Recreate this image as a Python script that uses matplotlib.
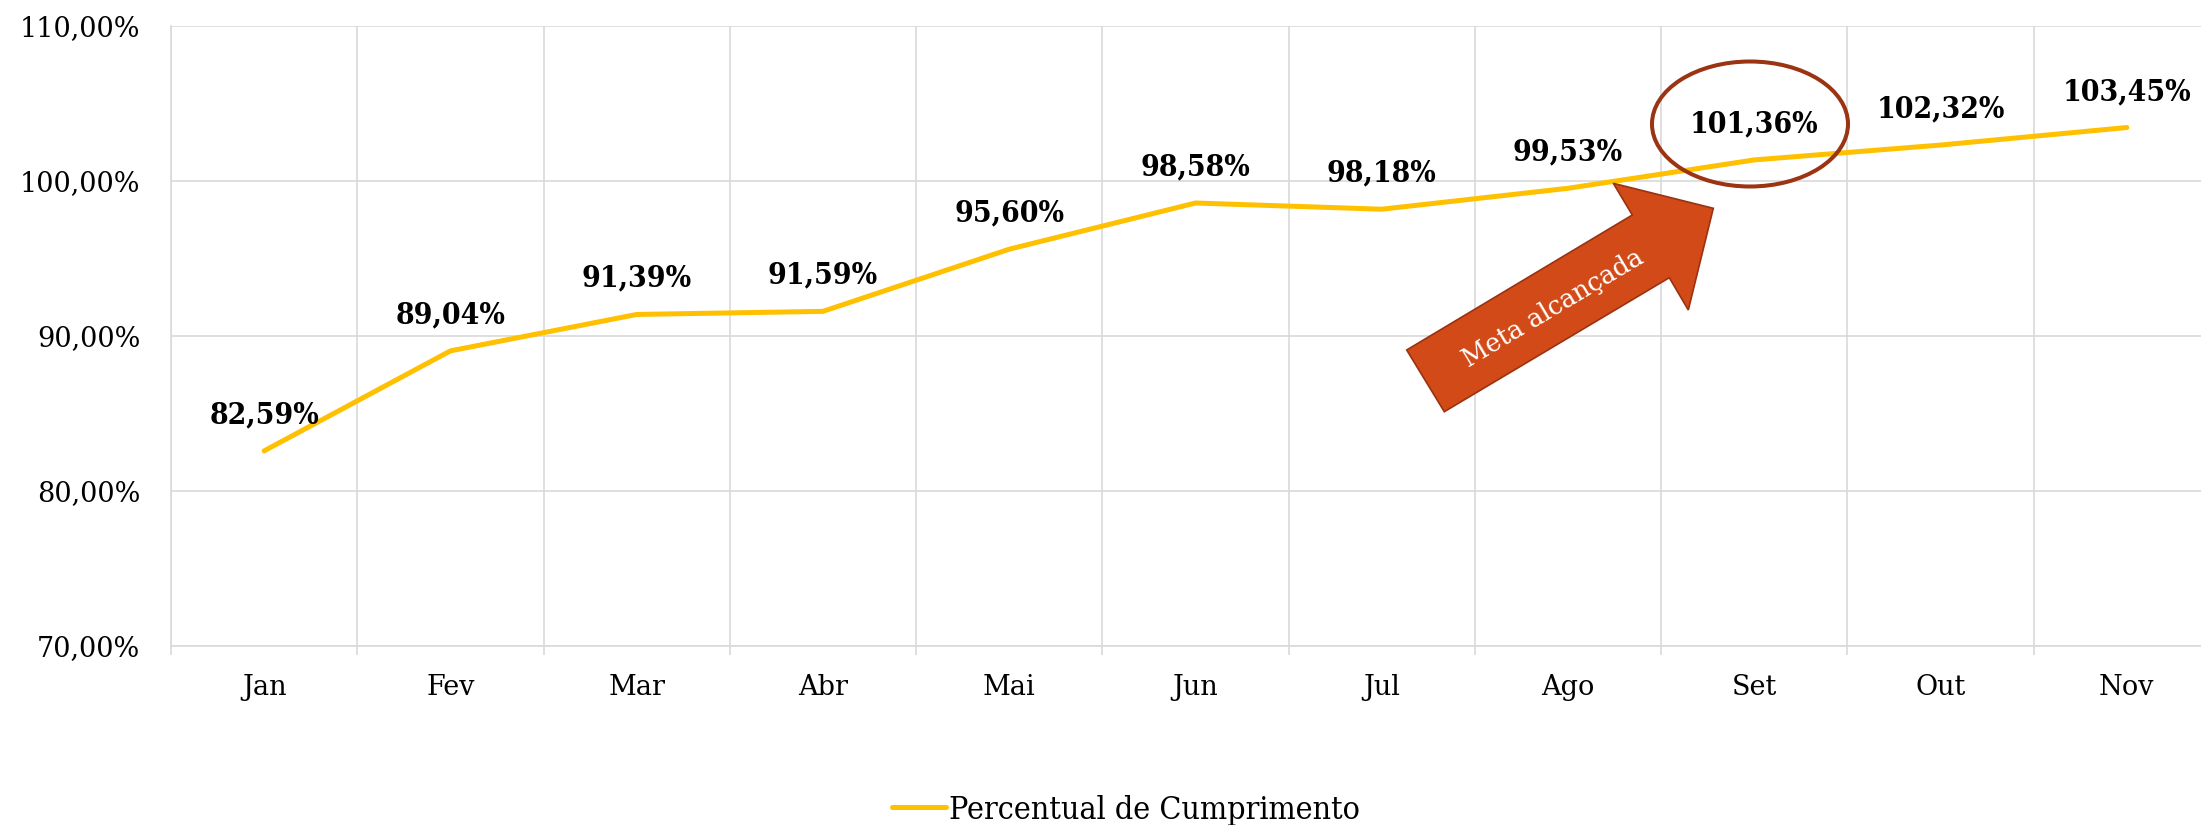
import matplotlib
matplotlib.use("Agg")
import matplotlib.pyplot as plt
from matplotlib.patches import Polygon, Ellipse
from matplotlib.ticker import FixedLocator

months = ["Jan", "Fev", "Mar", "Abr", "Mai", "Jun", "Jul", "Ago", "Set", "Out", "Nov"]
values = [82.59, 89.04, 91.39, 91.59, 95.60, 98.58, 98.18, 99.53, 101.36, 102.32, 103.45]
y_ticks = [70, 80, 90, 100, 110]
series_name = "Percentual de Cumprimento"
note_text = "Meta alcançada"

W, H = 2201, 825
plt.rcParams['font.family'] = ['DejaVu Serif']
fig = plt.figure(figsize=(W / 100, H / 100), dpi=100)

def fx(px):
    return px / W

def fy(py):
    return 1 - py / H

left, right, top, bottom = 171, 2220, 26, 646
ax = fig.add_axes([fx(left), fy(bottom), fx(right - left), (bottom - top) / H])

x = list(range(len(months)))
line, = ax.plot(x, values, color="#FFC000", lw=3.6, solid_capstyle="round",
                solid_joinstyle="round", label=series_name, zorder=3)

for xi, v in zip(x, values):
    ax.annotate(f"{v:.2f}%".replace(".", ","), (xi, v), xytext=(0, 26),
                textcoords="offset points", ha="center", va="center",
                fontsize=21.5, fontweight="bold", fontstretch="condensed",
                color="black", zorder=4)

ax.set_xlim(-0.5, len(months) - 0.5)
ax.set_ylim(70, 110)
ax.set_yticks(y_ticks)
ax.set_yticklabels([f"{t:.2f}%".replace(".", ",") for t in y_ticks])
ax.set_xticks(x)
ax.set_xticklabels(months)
ax.xaxis.set_minor_locator(FixedLocator([i - 0.5 for i in range(len(months) + 1)]))

grid_c = "#D9D9D9"
ax.grid(axis="y", which="major", color=grid_c, lw=1.2)
ax.grid(axis="x", which="minor", color=grid_c, lw=1.2)
ax.grid(axis="x", which="major", visible=False)
ax.set_axisbelow(True)

ax.tick_params(axis="x", which="major", length=0, pad=20.5, labelsize=19.5)
ax.tick_params(axis="x", which="minor", length=6.5, width=1.2, color=grid_c)
ax.tick_params(axis="y", which="major", length=0, pad=22, labelsize=19.5)

for s in ["top", "right"]:
    ax.spines[s].set_visible(False)
for s in ["left", "bottom"]:
    ax.spines[s].set_color(grid_c)
    ax.spines[s].set_linewidth(1.2)

# Arrow annotation (figure pixel coordinates)
arrow_px = [(1406.7, 350), (1444.3, 411.7), (1669.3, 277.7), (1688.3, 310),
            (1713.3, 208.3), (1613.3, 183.3), (1632.3, 215)]
arrow = Polygon([(fx(px), fy(py)) for px, py in arrow_px], closed=True,
                transform=fig.transFigure, facecolor="#D24A17", edgecolor="#9A3212",
                lw=1.2, zorder=5)
fig.add_artist(arrow)
fig.text(fx(1553), fy(308), note_text, rotation=30.9, rotation_mode="anchor",
         ha="center", va="center", color="white", fontsize=18.5, zorder=6)

ell = Ellipse((fx(1750), fy(124)), fx(196), 125 / H, transform=fig.transFigure,
              facecolor="none", edgecolor="#9B3413", lw=2.9, zorder=6)
fig.add_artist(ell)

leg = fig.legend(handles=[line], loc="center", bbox_to_anchor=(fx(1126), fy(810)),
                 frameon=False, handlelength=1.7, handletextpad=0.1,
                 prop={"size": 23, "stretch": "condensed"})

fig.savefig("out.png", dpi=100)
